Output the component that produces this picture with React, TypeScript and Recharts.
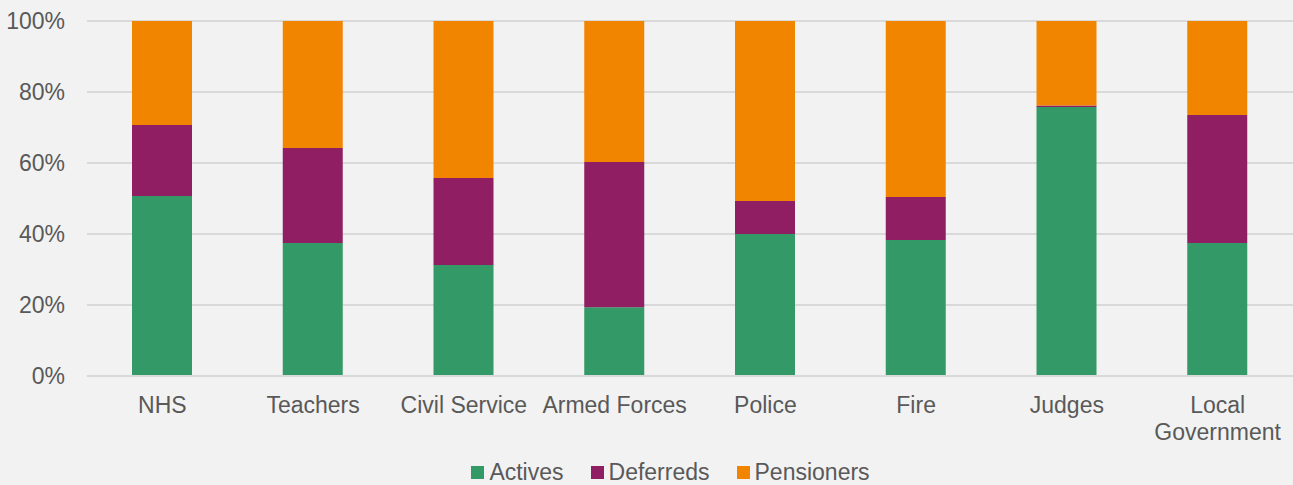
import { BarChart, Bar, XAxis, YAxis, CartesianGrid, Legend } from "recharts";

const schemes = ["NHS", "Teachers", "Civil Service", "Armed Forces", "Police", "Fire", "Judges", "Local Government"];
const actives = [50.7, 37.5, 31.3, 19.4, 40.0, 38.3, 75.8, 37.5];
const deferreds = [20.0, 26.7, 24.5, 40.9, 9.3, 12.1, 0.4, 36.0];
const pensioners = [29.3, 35.8, 44.2, 39.7, 50.7, 49.6, 23.8, 26.5];
const yTicks = [0, 20, 40, 60, 80, 100];

const series = [
  { key: "actives", label: "Actives", color: "#339966" },
  { key: "deferreds", label: "Deferreds", color: "#8f1f62" },
  { key: "pensioners", label: "Pensioners", color: "#f28500" },
];

const data = schemes.map((name, i) => ({
  name,
  actives: actives[i],
  deferreds: deferreds[i],
  pensioners: pensioners[i],
}));

const FONT = "'Liberation Sans', Arial, sans-serif";
const TEXT = "#595959";
const FS = 23;

function SchemeTick(props: any) {
  const { x, y, payload } = props;
  const label: string = payload.value;
  const lines = label.length > 14 ? label.split(" ") : [label];
  return (
    <text x={x} y={y} textAnchor="middle" fill={TEXT} fontSize={FS} fontFamily={FONT}>
      {lines.map((l, i) => (
        <tspan key={i} x={x} dy={i === 0 ? 35 : 27}>
          {l}
        </tspan>
      ))}
    </text>
  );
}

function LegendRow() {
  return (
    <div
      style={{
        display: "flex",
        justifyContent: "center",
        gap: 27,
        paddingLeft: 48,
        fontFamily: FONT,
        fontSize: FS,
        color: TEXT,
        lineHeight: "30px",
      }}
    >
      {series.map((s) => (
        <div key={s.key} style={{ display: "flex", alignItems: "center" }}>
          <span style={{ width: 13, height: 13, background: s.color, display: "inline-block", marginRight: 5 }} />
          <span>{s.label}</span>
        </div>
      ))}
    </div>
  );
}

export default function App() {
  return (
    <div style={{ position: "absolute", left: 0, top: 0, width: 1293, height: 485, background: "#f2f2f2" }}>
      <BarChart
        width={1293}
        height={485}
        data={data}
        margin={{ top: 21, right: 0, left: 0, bottom: -2 }}
        barSize={60}
      >
        <CartesianGrid vertical={false} stroke="#d9d9d9" strokeWidth={2} />
        <XAxis
          dataKey="name"
          axisLine={{ stroke: "#d9d9d9", strokeWidth: 2 }}
          tickLine={false}
          tickSize={0}
          height={81}
          interval={0}
          tick={<SchemeTick />}
        />
        <YAxis
          domain={[0, 100]}
          ticks={yTicks}
          tickFormatter={(v) => `${v}%`}
          axisLine={false}
          tickLine={false}
          tickSize={0}
          tickMargin={22}
          width={87}
          tick={{ fill: TEXT, fontSize: FS, fontFamily: FONT }}
        />
        <Legend verticalAlign="bottom" height={30} content={<LegendRow />} />
        {series.map((s) => (
          <Bar key={s.key} dataKey={s.key} name={s.label} stackId="a" fill={s.color} isAnimationActive={false} />
        ))}
      </BarChart>
    </div>
  );
}
